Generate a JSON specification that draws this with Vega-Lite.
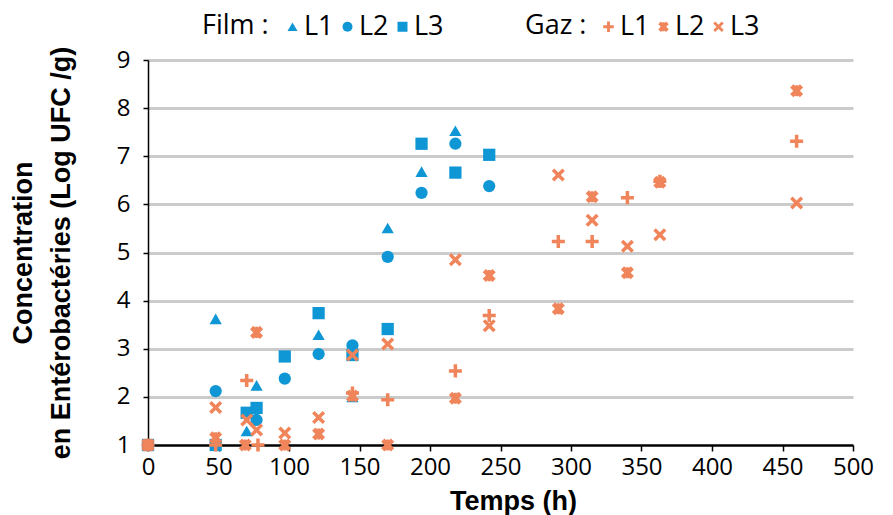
{
  "$schema": "https://vega.github.io/schema/vega-lite/v6.json",
  "autosize": {"type": "none"},
  "padding": {"left": 148, "top": 60, "right": 40, "bottom": 70},
  "width": 705,
  "height": 385,
  "background": "white",
  "config": {"view": {"stroke": null}, "font": "Open Sans"},
  "data": {"values": [
    {"g":"Film","s":"L1","t":0,"v":1},{"g":"Film","s":"L1","t":48,"v":3.62},{"g":"Film","s":"L1","t":70,"v":1.29},{"g":"Film","s":"L1","t":77,"v":2.24},{"g":"Film","s":"L1","t":121,"v":3.29},{"g":"Film","s":"L1","t":145,"v":2.0},{"g":"Film","s":"L1","t":170,"v":5.51},{"g":"Film","s":"L1","t":194,"v":6.68},{"g":"Film","s":"L1","t":218,"v":7.53},
    {"g":"Film","s":"L2","t":0,"v":1},{"g":"Film","s":"L2","t":48,"v":2.12},{"g":"Film","s":"L2","t":77,"v":1.52},{"g":"Film","s":"L2","t":97,"v":2.38},{"g":"Film","s":"L2","t":121,"v":2.89},{"g":"Film","s":"L2","t":145,"v":3.07},{"g":"Film","s":"L2","t":170,"v":4.91},{"g":"Film","s":"L2","t":194,"v":6.24},{"g":"Film","s":"L2","t":218,"v":7.26},{"g":"Film","s":"L2","t":242,"v":6.38},
    {"g":"Film","s":"L3","t":0,"v":1},{"g":"Film","s":"L3","t":48,"v":1.0},{"g":"Film","s":"L3","t":70,"v":1.67},{"g":"Film","s":"L3","t":77,"v":1.77},{"g":"Film","s":"L3","t":97,"v":2.84},{"g":"Film","s":"L3","t":121,"v":3.74},{"g":"Film","s":"L3","t":145,"v":2.87},{"g":"Film","s":"L3","t":170,"v":3.41},{"g":"Film","s":"L3","t":194,"v":7.26},{"g":"Film","s":"L3","t":218,"v":6.66},{"g":"Film","s":"L3","t":242,"v":7.03},
    {"g":"Gaz","s":"L1","t":0,"v":1},{"g":"Gaz","s":"L1","t":48,"v":1.0},{"g":"Gaz","s":"L1","t":70,"v":2.34},{"g":"Gaz","s":"L1","t":78,"v":1.0},{"g":"Gaz","s":"L1","t":145,"v":2.08},{"g":"Gaz","s":"L1","t":170,"v":1.94},{"g":"Gaz","s":"L1","t":218,"v":2.54},{"g":"Gaz","s":"L1","t":242,"v":3.69},{"g":"Gaz","s":"L1","t":291,"v":5.23},{"g":"Gaz","s":"L1","t":315,"v":5.23},{"g":"Gaz","s":"L1","t":340,"v":6.14},{"g":"Gaz","s":"L1","t":363,"v":6.48},{"g":"Gaz","s":"L1","t":460,"v":7.31},
    {"g":"Gaz","s":"L2","t":0,"v":1},{"g":"Gaz","s":"L2","t":48,"v":1.15},{"g":"Gaz","s":"L2","t":69,"v":1.0},{"g":"Gaz","s":"L2","t":77,"v":3.34},{"g":"Gaz","s":"L2","t":97,"v":1.0},{"g":"Gaz","s":"L2","t":121,"v":1.23},{"g":"Gaz","s":"L2","t":145,"v":2.02},{"g":"Gaz","s":"L2","t":170,"v":1.0},{"g":"Gaz","s":"L2","t":218,"v":1.97},{"g":"Gaz","s":"L2","t":242,"v":4.52},{"g":"Gaz","s":"L2","t":291,"v":3.83},{"g":"Gaz","s":"L2","t":315,"v":6.16},{"g":"Gaz","s":"L2","t":340,"v":4.58},{"g":"Gaz","s":"L2","t":363,"v":6.46},{"g":"Gaz","s":"L2","t":460,"v":8.36},
    {"g":"Gaz","s":"L3","t":0,"v":1},{"g":"Gaz","s":"L3","t":48,"v":1.78},{"g":"Gaz","s":"L3","t":70,"v":1.52},{"g":"Gaz","s":"L3","t":77,"v":1.31},{"g":"Gaz","s":"L3","t":97,"v":1.25},{"g":"Gaz","s":"L3","t":121,"v":1.57},{"g":"Gaz","s":"L3","t":145,"v":2.87},{"g":"Gaz","s":"L3","t":170,"v":3.1},{"g":"Gaz","s":"L3","t":218,"v":4.85},{"g":"Gaz","s":"L3","t":242,"v":3.48},{"g":"Gaz","s":"L3","t":291,"v":6.61},{"g":"Gaz","s":"L3","t":315,"v":5.67},{"g":"Gaz","s":"L3","t":340,"v":5.13},{"g":"Gaz","s":"L3","t":363,"v":5.37},{"g":"Gaz","s":"L3","t":460,"v":6.03}
  ]},
  "encoding": {
    "x": {"field": "t", "type": "quantitative", "scale": {"domain": [0, 500], "nice": false},
      "axis": {"title": "Temps (h)", "values": [0,50,100,150,200,250,300,350,400,450,500], "grid": false,
        "domainColor": "black", "domainWidth": 2.5, "tickColor": "black", "tickWidth": 1.5, "tickSize": 6,
        "labelFontSize": 24, "labelFont": "Open Sans", "labelColor": "black", "labelPadding": 4, "labelFlush": false,
        "titleFont": "Liberation Sans", "titleFontSize": 27, "titleFontWeight": "bold", "titleColor": "black", "titlePadding": 9, "titleX": 365}},
    "y": {"field": "v", "type": "quantitative", "scale": {"domain": [1, 9], "nice": false},
      "axis": {"title": ["Concentration", "en Entérobactéries (Log UFC /g)"], "values": [1,2,3,4,5,6,7,8,9],
        "grid": true, "gridColor": "#cbcbcb", "gridWidth": 3,
        "gridOpacity": {"condition": {"test": "datum.value === 1", "value": 0}, "value": 1},
        "domainColor": "black", "domainWidth": 1.5, "tickColor": "black", "tickWidth": 1.5, "tickSize": 5,
        "labelFontSize": 24, "labelFont": "Open Sans", "labelColor": "black", "labelPadding": 13,
        "titleFont": "Liberation Sans", "titleFontSize": 27, "titleFontWeight": "bold", "titleColor": "black",
        "titleLineHeight": 38, "titlePadding": 41}}
  },
  "layer": [
    {
      "transform": [{"filter": "datum.g === 'Film'"}],
      "mark": {"type": "point", "filled": true, "opacity": 1, "size": 150, "color": "#0f96d4"},
      "encoding": {
        "shape": {"field": "s", "type": "nominal",
          "scale": {"domain": ["L1","L2","L3"], "range": ["triangle-up","circle","square"]},
          "legend": {"orient": "none", "legendX": 54, "legendY": -47, "direction": "horizontal",
            "title": "Film :", "titleOrient": "left", "titleFontSize": 27, "titleFontWeight": "normal", "titleFont": "Open Sans", "titleColor": "black", "titlePadding": 10,
            "labelFontSize": 27, "labelFont": "Open Sans", "labelColor": "black", "labelOffset": -2, "columnPadding": 0,
            "symbolSize": 100, "symbolFillColor": "#0f96d4", "symbolStrokeWidth": 0, "symbolOpacity": 1}}
      }
    },
    {
      "transform": [{"filter": "datum.g === 'Gaz'"}],
      "mark": {"type": "point", "filled": true, "opacity": 1, "size": 170, "color": "#f0845a"},
      "encoding": {
        "shape": {"field": "s", "type": "nominal",
          "scale": {"domain": ["L1","L2","L3"], "range": [
            "M-0.27,-1H0.27V-0.27H1V0.27H0.27V1H-0.27V0.27H-1V-0.27H-0.27Z",
            "M-1,-0.5L-0.5,-1L0,-0.5L0.5,-1L1,-0.5L0.5,0L1,0.5L0.5,1L0,0.5L-0.5,1L-1,0.5L-0.5,0ZM-0.22,-0.85H0.22V0.85H-0.22Z",
            "M-1,-0.62L-0.62,-1L0,-0.38L0.62,-1L1,-0.62L0.38,0L1,0.62L0.62,1L0,0.38L-0.62,1L-1,0.62L-0.38,0Z"]},
          "legend": {"orient": "none", "legendX": 377, "legendY": -47, "direction": "horizontal",
            "title": "Gaz :", "titleOrient": "left", "titleFontSize": 27, "titleFontWeight": "normal", "titleFont": "Open Sans", "titleColor": "black", "titlePadding": 8,
            "labelFontSize": 27, "labelFont": "Open Sans", "labelColor": "black", "labelOffset": -2, "columnPadding": 0,
            "symbolSize": 110, "symbolFillColor": "#f0845a", "symbolStrokeWidth": 0, "symbolOpacity": 1}}
      }
    }
  ],
  "resolve": {"scale": {"shape": "independent"}, "legend": {"shape": "independent"}}
}
